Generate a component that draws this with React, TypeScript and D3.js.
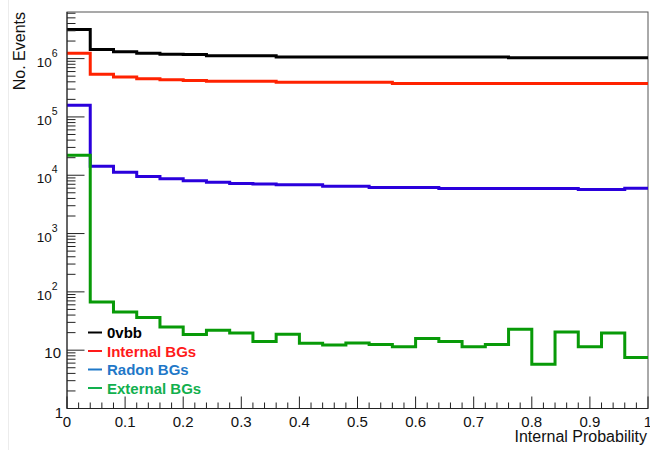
import React, { useEffect, useRef } from 'react';
import * as d3 from 'd3';

// histogram: 25 bins between 0 and 1
const nBins = 25;
const xLimits = [0, 1];

const zeroNuBB = [
  3.17e6, 1.44e6, 1.31e6, 1.23e6, 1.19e6, 1.18e6, 1.12e6, 1.12e6, 1.12e6,
  1.07e6, 1.07e6, 1.07e6, 1.07e6, 1.07e6, 1.07e6, 1.07e6, 1.07e6, 1.07e6, 1.07e6,
  1.03e6, 1.03e6, 1.03e6, 1.03e6, 1.03e6, 1.03e6,
];
const internalBGs = [
  1.23e6, 5.42e5, 4.82e5, 4.5e5, 4.33e5, 4.23e5, 4.11e5, 4.11e5, 4.11e5,
  3.95e5, 3.95e5, 3.95e5, 3.95e5, 3.95e5,
  3.76e5, 3.76e5, 3.76e5, 3.76e5, 3.76e5, 3.76e5, 3.76e5, 3.76e5, 3.76e5, 3.76e5, 3.76e5,
];
const radonBGs = [
  1.59e5, 14300, 11200, 9530, 8670, 8010, 7610, 7230, 7050,
  6840, 6840, 6500, 6500, 6180, 6180, 6180,
  5940, 5940, 5940, 5940, 5940, 5940, 5700, 5700, 6010,
];
const externalBGs = [
  22100, 67, 45, 36.4, 25.1, 18.6, 22.0, 19.8, 14.1, 18.8, 13.2, 12.3, 13.3,
  12.5, 11.4, 15.9, 14.1, 11.4, 12.5, 22.9, 5.75, 20.6, 11.4, 19.8, 7.5,
];

const seriesNames = ['0vbb', 'Internal BGs', 'Radon BGs', 'External BGs'];
const lineColors = ['#000000', '#ff2200', '#2a00dc', '#089a08'];
const legendColors = ['#000000', '#ff1a1a', '#1f78c8', '#12b04e'];

const xTicks = [0, 0.1, 0.2, 0.3, 0.4, 0.5, 0.6, 0.7, 0.8, 0.9, 1];
const xTickLabels = ['0', '0.1', '0.2', '0.3', '0.4', '0.5', '0.6', '0.7', '0.8', '0.9', '1'];
const yExponents = [0, 1, 2, 3, 4, 5, 6];
const yMax = 6.3e6;

const xTitle = 'Internal Probability';
const yTitle = 'No. Events';

export default function App() {
  const svgRef = useRef<SVGSVGElement>(null);

  useEffect(() => {
    if (!svgRef.current) return;
    const svg = d3.select(svgRef.current);
    svg.selectAll('*').remove();

    const W = 650;
    const H = 452;
    const margin = { top: 12, right: 2, bottom: 43.5, left: 67 };
    const x0 = margin.left;
    const x1 = W - margin.right;
    const y0 = H - margin.bottom;
    const y1 = margin.top;
    const font = "'Liberation Sans', Arial, Helvetica, sans-serif";

    svg.attr('width', W).attr('height', H);

    svg.append('rect').attr('width', W).attr('height', H).attr('fill', '#fff');
    svg.append('line')
      .attr('x1', 8.5).attr('x2', 8.5).attr('y1', 0).attr('y2', 450)
      .attr('stroke', '#ececec');

    const x = d3.scaleLinear().domain(xLimits).range([x0, x1]);
    const y = d3.scaleLog().domain([1, yMax]).range([y0, y1]);

    // frame
    svg.append('rect')
      .attr('x', x0).attr('y', y1)
      .attr('width', x1 - x0).attr('height', y0 - y1)
      .attr('fill', 'none').attr('stroke', '#555').attr('stroke-width', 1);

    // histograms
    const edges = d3.range(nBins + 1).map(i => xLimits[0] + (i * (xLimits[1] - xLimits[0])) / nBins);
    const line = d3.line<[number, number]>()
      .x(d => x(d[0]))
      .y(d => y(d[1]))
      .curve(d3.curveStepAfter);

    [zeroNuBB, internalBGs, radonBGs, externalBGs].forEach((vals, k) => {
      const pts: [number, number][] = vals.map((v, i) => [edges[i], v]);
      pts.push([edges[nBins], vals[nBins - 1]]);
      svg.append('path')
        .attr('d', line(pts) as string)
        .attr('fill', 'none')
        .attr('stroke', lineColors[k])
        .attr('stroke-width', 3)
        .attr('stroke-linejoin', 'miter');
    });

    // axes lines
    const axis = svg.append('g').attr('stroke', '#222').attr('stroke-width', 1);
    axis.append('line').attr('x1', x0).attr('x2', x0).attr('y1', y1).attr('y2', y0);
    axis.append('line').attr('x1', x0).attr('x2', x1).attr('y1', y0).attr('y2', y0);

    // x ticks
    const minorX = d3.range(0, 51).map(i => i / 50);
    minorX.forEach((t, i) => {
      const len = i % 5 === 0 ? 12 : 6;
      axis.append('line')
        .attr('x1', x(t)).attr('x2', x(t))
        .attr('y1', y0).attr('y2', y0 - len);
    });
    svg.selectAll('.xlab')
      .data(xTicks)
      .join('text')
      .attr('x', d => x(d))
      .attr('y', y0 + 18)
      .attr('text-anchor', 'middle')
      .attr('font-family', font)
      .attr('font-size', 15)
      .attr('fill', '#111')
      .text((_, i) => xTickLabels[i]);

    // y ticks
    yExponents.forEach(e => {
      const v = Math.pow(10, e);
      axis.append('line')
        .attr('x1', x0).attr('x2', x0 + 17.5)
        .attr('y1', y(v)).attr('y2', y(v));
      for (let m = 2; m <= 9; m++) {
        const mv = m * v;
        if (mv > yMax) break;
        axis.append('line')
          .attr('x1', x0).attr('x2', x0 + 8.5)
          .attr('y1', y(mv)).attr('y2', y(mv));
      }
    });

    yExponents.forEach(e => {
      const yy = y(Math.pow(10, e));
      if (e === 0) {
        svg.append('text')
          .attr('x', 63).attr('y', yy + 9)
          .attr('text-anchor', 'end')
          .attr('font-family', font).attr('font-size', 15).attr('fill', '#111')
          .text('1');
      } else if (e === 1) {
        svg.append('text')
          .attr('x', 61).attr('y', yy + 7.5)
          .attr('text-anchor', 'end')
          .attr('font-family', font).attr('font-size', 15).attr('fill', '#111')
          .text('10');
      } else {
        const t = svg.append('text')
          .attr('x', 57.5).attr('y', yy + 8)
          .attr('text-anchor', 'end')
          .attr('font-family', font).attr('fill', '#111');
        t.append('tspan').attr('font-size', 13.5).text('10');
        t.append('tspan').attr('font-size', 10.5).attr('dy', -10).text(String(e));
      }
    });

    // titles
    svg.append('text')
      .attr('x', 647).attr('y', 442)
      .attr('text-anchor', 'end')
      .attr('font-family', font).attr('font-size', 16).attr('fill', '#111')
      .text(xTitle);
    svg.append('text')
      .attr('transform', 'translate(25,12) rotate(-90)')
      .attr('text-anchor', 'end')
      .attr('font-family', font).attr('font-size', 16).attr('fill', '#111')
      .text(yTitle);

    // legend
    const legend = svg.append('g');
    seriesNames.forEach((name, k) => {
      const base = 338 + k * 18.5;
      legend.append('line')
        .attr('x1', 88).attr('x2', 102)
        .attr('y1', base - 5.5).attr('y2', base - 5.5)
        .attr('stroke', legendColors[k]).attr('stroke-width', 2);
      legend.append('text')
        .attr('x', 107).attr('y', base)
        .attr('font-family', font).attr('font-size', 15).attr('font-weight', 'bold')
        .attr('fill', legendColors[k])
        .text(name);
    });
  }, []);

  return (
    <svg
      ref={svgRef}
      style={{ position: 'absolute', left: 0, top: 0, display: 'block' }}
    />
  );
}
